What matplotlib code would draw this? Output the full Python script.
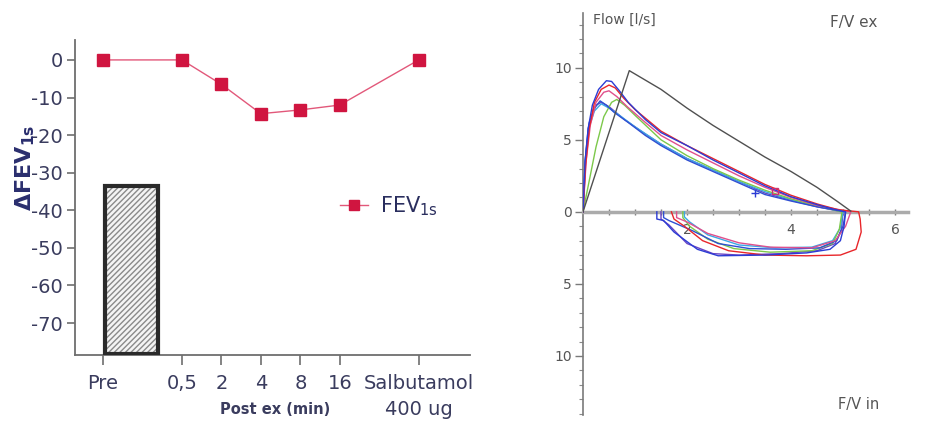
import matplotlib
matplotlib.use("Agg")
import matplotlib.pyplot as plt
import numpy as np

plt.rcParams['font.family'] = ['DejaVu Sans']
plt.rcParams['mathtext.default'] = 'regular'
plt.rcParams['hatch.linewidth'] = 1.0

# left chart: change in FEV1s after exercise
categories = ['Pre', '0,5', '2', '4', '8', '16', 'Salbutamol\n400 ug']
cat_pos = [0, 2, 3, 4, 5, 6, 8]
fev_change = [0, 0, -6.5, -14.3, -13.3, -12.0, 0]
bar_value = -33.5

# right chart: flow-volume loops (volume [l], flow [l/s]); expiration then inspiration
loop_blue_hi = [(0, 0), (0.04, 3.5), (0.1, 5.8), (0.18, 7.4), (0.3, 8.5), (0.45, 9.1), (0.55, 9.05),
                (0.7, 8.4), (0.87, 7.6), (1.2, 6.4), (1.5, 5.5), (2.0, 4.6), (2.5, 3.6), (3.0, 2.7),
                (3.5, 1.8), (4.0, 1.05), (4.5, 0.5), (4.8, 0.2), (5.05, 0),
                (5.02, -1.0), (4.95, -2.0), (4.75, -2.6), (4.3, -2.85), (3.5, -3.0), (2.6, -3.05),
                (2.2, -2.6), (1.75, -1.4), (1.55, -0.6), (1.42, -0.5), (1.42, 0)]
loop_red = [(0, 0), (0.05, 3.2), (0.12, 5.8), (0.22, 7.6), (0.35, 8.5), (0.5, 8.8), (0.62, 8.6),
            (0.78, 7.9), (1.0, 7.1), (1.5, 5.6), (2.0, 4.6), (2.5, 3.7), (3.0, 2.8), (3.5, 1.9),
            (4.0, 1.15), (4.5, 0.55), (4.9, 0.15), (5.3, 0),
            (5.33, -0.5), (5.35, -1.4), (5.25, -2.6), (4.95, -3.0), (4.3, -3.05), (3.5, -3.0),
            (2.8, -2.7), (2.3, -2.0), (1.95, -1.0), (1.75, -0.5), (1.7, 0)]
loop_pink = [(0, 0), (0.06, 3.5), (0.14, 6.0), (0.25, 7.6), (0.4, 8.3), (0.5, 8.4), (0.65, 8.0),
             (0.85, 7.3), (1.2, 6.2), (1.5, 5.3), (2.0, 4.3), (2.5, 3.4), (3.0, 2.5), (3.5, 1.7),
             (4.0, 1.0), (4.5, 0.45), (5.15, 0),
             (5.05, -1.0), (4.85, -2.0), (4.4, -2.5), (3.6, -2.45), (3.0, -2.15), (2.4, -1.5),
             (2.0, -0.7), (1.8, -0.4), (1.8, 0)]
loop_green = [(0, 0), (0.1, 1.8), (0.25, 4.5), (0.4, 6.6), (0.55, 7.6), (0.65, 7.8), (0.8, 7.4),
              (1.0, 6.7), (1.5, 5.0), (2.0, 3.9), (2.5, 3.0), (3.0, 2.2), (3.5, 1.5), (4.0, 0.9),
              (4.5, 0.4), (4.98, 0),
              (4.93, -1.2), (4.8, -2.2), (4.4, -2.7), (3.6, -2.8), (2.9, -2.55), (2.4, -1.9),
              (2.05, -1.0), (1.92, -0.4), (1.92, 0)]
loop_blue_lo = [(0, 0), (0.04, 3.5), (0.1, 5.8), (0.2, 7.1), (0.33, 7.7), (0.45, 7.4), (0.6, 6.9),
                (0.87, 6.2), (1.2, 5.3), (1.5, 4.6), (2.0, 3.6), (2.5, 2.8), (3.0, 2.0), (3.5, 1.2),
                (4.0, 0.75), (4.5, 0.35), (5.05, 0),
                (5.0, -1.0), (4.88, -2.0), (4.55, -2.5), (3.9, -2.6), (3.2, -2.55), (2.6, -2.2),
                (2.1, -1.3), (1.65, -0.6), (1.55, -0.4), (1.55, 0)]
loop_cyan = [(0, 0), (0.05, 3.6), (0.12, 5.9), (0.22, 7.0), (0.35, 7.5), (0.5, 7.2), (0.7, 6.7),
             (1.0, 5.9), (1.5, 4.7), (2.0, 3.7), (2.5, 2.9), (3.0, 2.1), (3.5, 1.4), (4.0, 0.85),
             (4.5, 0.4), (5.0, 0),
             (4.95, -1.1), (4.8, -2.0), (4.4, -2.45), (3.7, -2.5), (3.0, -2.3), (2.4, -1.6),
             (2.05, -0.7), (1.95, -0.35), (1.95, 0)]
loop_purple = [(0, 0), (0.05, 3.8), (0.12, 6.2), (0.25, 7.4), (0.35, 7.6), (0.5, 7.3), (0.8, 6.4),
               (1.2, 5.4), (1.5, 4.7), (2.0, 3.7), (2.5, 2.9), (3.0, 2.1), (3.5, 1.3), (4.0, 0.8),
               (4.5, 0.35), (5.0, 0),
               (4.97, -1.2), (4.85, -2.2), (4.5, -2.7), (3.8, -2.9), (3.0, -3.0), (2.5, -2.9),
               (2.0, -2.2), (1.65, -0.9), (1.5, -0.5), (1.5, 0)]
predicted = [(0, 0), (0.89, 9.8), (1.5, 8.5), (2.0, 7.2), (2.5, 6.0), (3.0, 4.9), (3.5, 3.8),
             (4.0, 2.8), (4.5, 1.7), (4.9, 0.7), (5.15, 0.05)]
fev1_red = (3.69, 1.45)
fev1_blue = (3.3, 1.3)

fig = plt.figure(figsize=(9.39, 4.21), dpi=100)
W, H = 939, 421

# ---- left panel ----
ax = fig.add_axes([75 / W, 1 - 355 / H, (470 - 75) / W, (355 - 40) / H])
ax.set_xlim(-0.71, 9.3)
ax.set_ylim(-78.5, 5.3)

ax.bar(0.72, bar_value - (-78.3), bottom=-78.3, width=1.34, color='#f4f4f4',
       edgecolor='#8a8a8a', hatch='//////', linewidth=0, zorder=2)
ax.bar(0.72, bar_value - (-78.3), bottom=-78.3, width=1.34, fill=False,
       edgecolor='#2a2a2a', linewidth=3, zorder=3)

ax.plot(cat_pos, fev_change, color='#e2587a', lw=1, marker='s', ms=9,
        mfc='#d01540', mec='#d01540', label='FEV$_{1s}$', zorder=4)

for s in ['top', 'right']:
    ax.spines[s].set_visible(False)
for s in ['left', 'bottom']:
    ax.spines[s].set_color('#6e6e6e')
    ax.spines[s].set_linewidth(1.3)

ax.set_yticks(range(-70, 1, 10))
ax.set_yticklabels([str(v) for v in range(-70, 1, 10)])
ax.set_xticks(cat_pos)
ax.set_xticklabels(categories)
ax.tick_params(axis='y', length=6, width=1.2, color='#6e6e6e', pad=3,
               labelsize=14, labelcolor='#3a3c5e')
ax.tick_params(axis='x', length=7, width=1.2, color='#6e6e6e', pad=7,
               labelsize=14, labelcolor='#3a3c5e')
for lab in ax.get_xticklabels():
    lab.set_linespacing(1.45)
    lab.set_va('top')

fig.text(25 / W, 1 - 168 / H, r'$\Delta$FEV$_{1s}$', rotation=90, ha='center', va='center',
         fontsize=16, fontweight='bold', color='#2a2e6e')
fig.text(275 / W, 1 - 410 / H, 'Post ex (min)', ha='center', va='center',
         fontsize=10.5, fontweight='bold', color='#3a3c5e')

ax.legend(loc='center left', bbox_to_anchor=(340 / W, 1 - 206 / H), bbox_transform=fig.transFigure,
          frameon=False, fontsize=15, handlelength=1.35, handletextpad=0.55,
          borderpad=0, borderaxespad=0, labelcolor='#2a2e5e', markerscale=0.8)

# ---- right panel ----
ax2 = fig.add_axes([583 / W, 1 - 415 / H, (908 - 583) / W, (415 - 13) / H])
ax2.set_xlim(0, 6.25)
ax2.set_ylim(-14.1, 13.8)

loops = [(loop_purple, '#6a44c4'), (loop_cyan, '#3aa8e6'), (loop_green, '#7cc84a'),
         (loop_blue_lo, '#2f4fd2'), (loop_pink, '#e0508c'), (loop_red, '#e8262a'),
         (loop_blue_hi, '#2c3cd4')]
for pts, col in loops:
    v, f = zip(*pts)
    ax2.plot(v, f, color=col, lw=1.0, zorder=3)
pv, pf = zip(*predicted)
ax2.plot(pv, pf, color='#505050', lw=1.0, zorder=3)
ax2.plot(*fev1_red, marker='s', ms=5, mfc='none', mec='#d03070', mew=1, zorder=4)
ax2.plot(*fev1_blue, marker='+', ms=6, mec='#2c3cd4', mew=1, zorder=4)

ax2.spines['top'].set_visible(False)
ax2.spines['right'].set_visible(False)
ax2.spines['bottom'].set_position(('data', 0))
ax2.spines['bottom'].set_color('#ababab')
ax2.spines['bottom'].set_linewidth(2.5)
ax2.spines['left'].set_color('#7a7a7a')
ax2.spines['left'].set_linewidth(1.2)

ax2.set_yticks([-10, -5, 0, 5, 10])
ax2.set_yticklabels(['10', '5', '0', '5', '10'])
ax2.set_yticks(range(-14, 14), minor=True)
ax2.set_xticks([2, 4, 6])
ax2.set_xticklabels(['2', '4', '6'])
ax2.set_xticks(np.arange(0.5, 6.1, 0.5), minor=True)
ax2.tick_params(axis='y', which='major', length=6, width=1, color='#7a7a7a',
                labelsize=10, labelcolor='#555555', pad=2)
ax2.tick_params(axis='y', which='minor', length=3, width=0.8, color='#8a8a8a')
ax2.tick_params(axis='x', which='both', direction='inout', length=4, width=1,
                color='#7a7a7a', labelsize=10, labelcolor='#555555', pad=6)

fig.text(593 / W, 1 - 20 / H, 'Flow [l/s]', ha='left', va='center', fontsize=10, color='#555555')
fig.text(830 / W, 1 - 22 / H, 'F/V ex', ha='left', va='center', fontsize=11, color='#555555')
fig.text(838 / W, 1 - 404 / H, 'F/V in', ha='left', va='center', fontsize=10.5, color='#555555')

fig.savefig('out.png', dpi=100)
